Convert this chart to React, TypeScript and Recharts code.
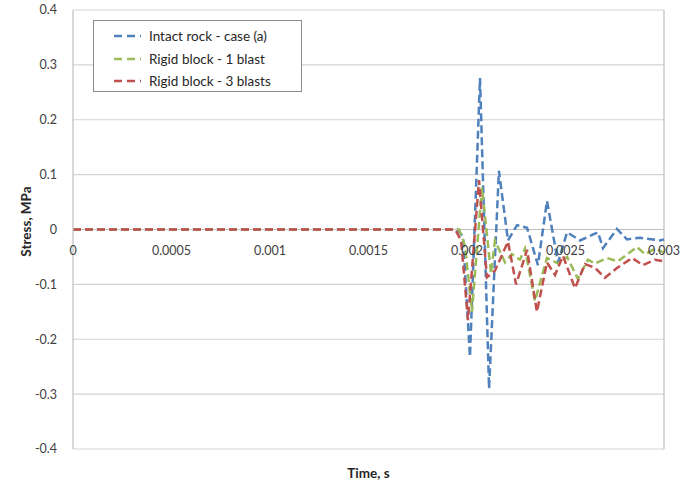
import React from 'react';
import { LineChart, Line, XAxis, YAxis, CartesianGrid, ReferenceLine, Legend } from 'recharts';

const xTicks = [0, 0.0005, 0.001, 0.0015, 0.002, 0.0025, 0.003];
const yTicks = [-0.4, -0.3, -0.2, -0.1, 0, 0.1, 0.2, 0.3, 0.4];

const intactTime = [0, 0.00195, 0.00198, 0.002015, 0.002066, 0.002112, 0.002162, 0.002208, 0.002254, 0.002305, 0.00236, 0.002406, 0.002462, 0.002508, 0.002574, 0.002665, 0.00269, 0.002761, 0.002812, 0.002878, 0.00298, 0.003];
const intactStress = [0, 0, -0.013, -0.232, 0.276, -0.29, 0.107, -0.02, 0.008, 0.003, -0.065, 0.052, -0.06, -0.005, -0.02, -0.005, -0.034, 0.001, -0.018, -0.015, -0.02, -0.018];

const oneBlastTime = [0, 0.00196, 0.00199, 0.002025, 0.002076, 0.002122, 0.002142, 0.002193, 0.002228, 0.002269, 0.002294, 0.002345, 0.002406, 0.002462, 0.002508, 0.002563, 0.002614, 0.00265, 0.002711, 0.002766, 0.002863, 0.002904, 0.002954, 0.003];
const oneBlastStress = [0, 0, -0.03, -0.15, 0.077, -0.08, -0.02, -0.06, -0.045, -0.055, -0.035, -0.13, -0.052, -0.062, -0.05, -0.09, -0.055, -0.062, -0.052, -0.058, -0.032, -0.045, -0.035, -0.042];

const threeBlastTime = [0, 0.00194, 0.00197, 0.002005, 0.002061, 0.002101, 0.002142, 0.002208, 0.002249, 0.002305, 0.002355, 0.002406, 0.002447, 0.002487, 0.002548, 0.002599, 0.00265, 0.0027, 0.002766, 0.002838, 0.002893, 0.002954, 0.003];
const threeBlastStress = [0, 0, -0.02, -0.165, 0.09, -0.087, -0.075, -0.022, -0.1, -0.037, -0.15, -0.06, -0.083, -0.048, -0.107, -0.063, -0.07, -0.088, -0.069, -0.052, -0.065, -0.055, -0.058];

const seriesNames = ['Intact rock - case (a)', 'Rigid block - 1 blast', 'Rigid block - 3 blasts'];
const seriesColors = ['#4F81BD', '#9BBB59', '#C0504D'];

const zip = (t: number[], s: number[]) => t.map((time, i) => ({ time, stress: s[i] }));
const seriesData = [zip(intactTime, intactStress), zip(oneBlastTime, oneBlastStress), zip(threeBlastTime, threeBlastStress)];

const FONT = 'Lato, "Liberation Sans", sans-serif';
const ZERO_Y = 229.5;

const XTick = (props: any) => {
  const { x, payload } = props;
  return (
    <text x={x} y={ZERO_Y + 25} textAnchor="middle" fontSize={12.5} fill="#404040" fontFamily={FONT}>
      {String(payload.value)}
    </text>
  );
};

const renderLegend = () => (
  <div style={{ border: '1px solid #8c8c8c', background: '#fff', boxSizing: 'border-box', width: 209, height: 72, paddingTop: 4, fontFamily: FONT, fontSize: 13.5, color: '#262626' }}>
    {seriesNames.map((n, i) => (
      <div key={n} style={{ display: 'flex', alignItems: 'center', height: 22.5 }}>
        <svg width={55} height={10} style={{ marginLeft: 0 }}>
          <line x1={20} y1={5} x2={47} y2={5} stroke={seriesColors[i]} strokeWidth={2.5} strokeDasharray="8 5" />
        </svg>
        <span>{n}</span>
      </div>
    ))}
  </div>
);

export default function App() {
  return (
    <div style={{ position: 'absolute', left: 0, top: 0, background: '#fff' }}>
      <LineChart width={689} height={483} margin={{ top: 10, right: 25, bottom: 0, left: 0 }}>
        <CartesianGrid vertical={false} stroke="#d3d3d3" strokeWidth={1.2} />
        <XAxis
          type="number"
          dataKey="time"
          domain={[0, 0.003]}
          ticks={xTicks}
          allowDuplicatedCategory={false}
          height={34}
          axisLine={false}
          tickLine={false}
          tick={<XTick />}
          interval={0}
          label={{ value: 'Time, s', position: 'insideBottom', offset: 5, style: { fontFamily: FONT, fontWeight: 700, fontSize: 13.5, fill: '#262626' } }}
        />
        <YAxis
          type="number"
          domain={[-0.4, 0.4]}
          ticks={yTicks}
          width={73}
          interval={0}
          axisLine={{ stroke: '#bfbfbf', strokeWidth: 1.2 }}
          tickLine={false}
          tickMargin={10}
          tickFormatter={(v: number) => String(v)}
          tick={{ fontFamily: FONT, fontSize: 12.5, fill: '#404040' }}
          label={{ value: 'Stress, MPa', angle: -90, position: 'insideLeft', offset: 26, dy: -8, style: { fontFamily: FONT, fontWeight: 700, fontSize: 13.5, fill: '#262626', textAnchor: 'middle' } }}
        />
        <ReferenceLine x={0.003} stroke="#bfbfbf" strokeWidth={1.2} />
        <ReferenceLine y={0} stroke="#bfbfbf" strokeWidth={1.2} />
        <Legend layout="vertical" align="center" verticalAlign="middle" content={renderLegend} wrapperStyle={{ left: 93, top: 20, width: 209, height: 72 }} />
        {seriesData.map((d, i) => (
          <Line
            key={seriesNames[i]}
            data={d}
            dataKey="stress"
            name={seriesNames[i]}
            type="linear"
            stroke={seriesColors[i]}
            strokeWidth={2.5}
            strokeDasharray="8 4"
            dot={false}
            activeDot={false}
            isAnimationActive={false}
          />
        ))}
      </LineChart>
    </div>
  );
}
